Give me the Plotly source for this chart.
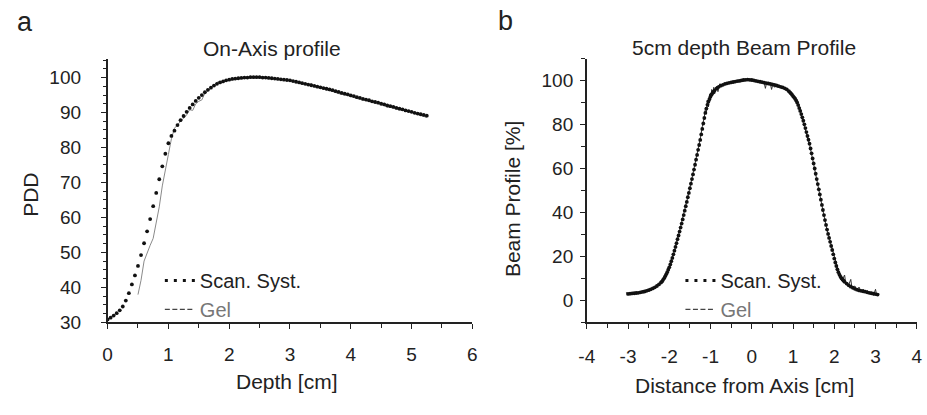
import plotly.graph_objects as go

# ---------------- Data: panel a (On-Axis profile) ----------------
pdd_scan_depth = [round(i * 0.05, 2) for i in range(106)]  # 0 .. 5.25 cm sampling grid
pdd_scan = [30.8, 31.3, 31.9, 32.6, 33.4, 34.5, 36.2, 38.3, 40.8, 43.4,
            46.1, 49.2, 52.6, 56.0, 59.5, 63.2, 67.0, 70.9, 74.6, 78.2,
            81.2, 83.3, 84.8, 86.4, 87.8, 89.0, 90.2, 91.3, 92.3, 93.3,
            94.2, 95.0, 95.8, 96.5, 97.1, 97.7, 98.2, 98.6, 98.9, 99.2,
            99.4, 99.6, 99.7, 99.8, 99.9, 100.0, 100.0, 100.1, 100.1, 100.1,
            100.1, 100.0, 100.0, 99.9, 99.8, 99.7, 99.6, 99.5, 99.4, 99.3,
            99.2, 99.0, 98.8, 98.6, 98.4, 98.2, 98.0, 97.8, 97.6, 97.4,
            97.2, 97.0, 96.8, 96.6, 96.4, 96.1, 95.9, 95.6, 95.4, 95.2,
            94.9, 94.7, 94.4, 94.2, 93.9, 93.7, 93.5, 93.2, 93.0, 92.8,
            92.5, 92.3, 92.0, 91.8, 91.6, 91.3, 91.1, 90.9, 90.6, 90.4,
            90.2, 89.9, 89.7, 89.5, 89.3, 89.1]

pdd_gel_depth = [0.5, 0.55, 0.6, 0.65, 0.7, 0.75, 0.8, 0.85, 0.9, 0.95,
                 1.0, 1.05, 1.1, 1.15, 1.2, 1.25, 1.3, 1.35, 1.4, 1.45,
                 1.5, 1.55, 1.6, 1.7, 1.8, 1.9, 2.0, 2.1, 2.2, 2.3,
                 2.4, 2.5, 2.6, 2.7, 2.8, 2.9, 3.0, 3.1, 3.2, 3.3,
                 3.35, 3.4, 3.5, 3.6, 3.7, 3.8, 3.9, 4.0, 4.1, 4.2,
                 4.3, 4.4, 4.5, 4.6, 4.7, 4.8, 4.9, 5.0, 5.1, 5.2, 5.25]
pdd_gel = [37.9, 42.0, 47.5, 50.0, 52.0, 54.0, 58.5, 63.0, 69.0, 74.0,
           78.0, 82.5, 85.5, 86.5, 87.5, 88.5, 89.3, 90.8, 90.6, 92.5,
           93.2, 93.6, 95.5, 96.9, 98.7, 98.8, 99.3, 99.4, 99.9, 100.0,
           100.3, 100.2, 100.1, 99.7, 99.6, 99.4, 99.0, 98.5, 98.2, 97.8,
           98.3, 97.4, 97.0, 96.6, 96.0, 95.4, 95.1, 94.6, 94.0, 93.6,
           93.1, 92.6, 92.3, 91.6, 91.3, 90.7, 90.5, 90.0, 89.5, 89.0, 88.6]

# ---------------- Data: panel b (5cm depth Beam Profile) ----------------
# sampling grid of the scanning system: 0.05 cm in the flat parts, 0.025 cm on the penumbrae
prof_scan_x = ([round(-3.0 + i * 0.05, 3) for i in range(16)] +
               [round(-2.2 + i * 0.025, 3) for i in range(53)] +
               [round(-0.85 + i * 0.05, 3) for i in range(35)] +
               [round(0.9 + i * 0.025, 3) for i in range(55)] +
               [round(2.3 + i * 0.05, 3) for i in range(16)])
prof_scan = [2.9, 3.0, 3.1, 3.2, 3.3, 3.4, 3.6, 3.8, 4.0, 4.3, 4.6, 5.0, 5.4, 5.9, 6.5, 7.2,
             8.1, 8.6, 9.3, 10.0, 10.9, 11.8, 12.8, 13.9, 15.0, 16.3,
             17.8, 19.3, 20.9, 22.6, 24.3, 26.0, 27.8, 29.5, 31.3, 33.1,
             34.9, 36.8, 38.8, 40.8, 42.8, 44.8, 46.9, 48.9, 51.0, 53.1,
             55.2, 57.3, 59.5, 61.7, 64.0, 66.2, 68.5, 70.7, 73.0, 75.5,
             78.0, 80.5, 83.0, 85.3, 87.3, 89.0, 90.5, 91.7, 92.8, 93.7,
             94.4, 95.0, 95.6,
             96.5, 97.2, 97.7, 98.1, 98.5, 98.8, 99.0, 99.2, 99.4, 99.6,
             99.8, 99.9, 100.1, 100.3, 100.4, 100.5, 100.4, 100.3, 100.1, 99.9,
             99.7, 99.5, 99.3, 99.1, 98.9, 98.7, 98.5, 98.3, 98.1, 97.8,
             97.5, 97.2, 96.9, 96.5, 96.0,
             95.2, 94.7, 94.2, 93.6, 93.0, 92.4, 91.8, 91.0, 90.1, 88.9,
             87.5, 86.2, 84.8, 83.3, 81.8, 80.1, 78.4, 76.6, 74.8, 73.1,
             71.3, 69.1, 66.9, 64.6, 62.3, 60.0, 57.6, 55.2, 52.9, 50.5,
             48.2, 45.8, 43.4, 41.1, 38.8, 36.5, 34.3, 32.2, 30.2, 28.4,
             26.6, 24.7, 22.9, 20.9, 19.0, 17.2, 15.6, 14.1, 12.8, 11.7,
             10.8, 10.0, 9.4, 8.9, 8.4,
             7.6, 6.8, 6.2, 5.7, 5.2, 4.8, 4.5, 4.3, 4.1, 3.9, 3.6, 3.4, 3.2, 3.0, 2.8, 2.6]

prof_gel_x = [-3.05, -2.95, -2.85, -2.75, -2.65, -2.55, -2.45, -2.35, -2.25, -2.15,
              -2.05, -1.95, -1.85, -1.75, -1.65, -1.55, -1.45, -1.35, -1.25, -1.2,
              -1.15, -1.12, -1.1, -1.08, -1.05, -1.02, -1.0, -0.97, -0.95, -0.92,
              -0.9, -0.85, -0.82, -0.78, -0.7, -0.6, -0.5, -0.4, -0.3, -0.2,
              -0.1, 0.0, 0.1, 0.2, 0.3, 0.33, 0.36, 0.45, 0.48, 0.51,
              0.55, 0.58, 0.7, 0.8, 0.9, 1.0, 1.1, 1.15, 1.2, 1.3,
              1.4, 1.5, 1.6, 1.7, 1.8, 1.9, 2.0, 2.05, 2.1, 2.15,
              2.2, 2.25, 2.28, 2.35, 2.4, 2.43, 2.5, 2.55, 2.6, 2.65,
              2.7, 2.75, 2.8, 2.85, 2.9, 2.95, 3.0, 3.03, 3.08]
prof_gel = [3.5, 2.5, 3.4, 3.3, 3.9, 4.2, 5.2, 5.6, 7.5, 9.0,
            13.0, 18.0, 24.0, 31.5, 39.0, 47.0, 55.5, 64.0, 73.5, 79.0,
            83.5, 88.0, 85.0, 91.0, 88.0, 94.0, 91.0, 96.0, 93.0, 97.0,
            94.0, 97.5, 95.0, 98.5, 98.0, 99.0, 99.3, 99.5, 100.0, 100.2,
            100.6, 100.2, 99.9, 99.4, 99.2, 96.5, 99.0, 98.6, 96.0, 98.3,
            97.0, 98.2, 97.3, 96.4, 95.0, 92.8, 90.0, 88.5, 84.0, 78.0,
            71.0, 62.0, 53.0, 43.5, 34.0, 26.8, 19.5, 16.0, 13.5, 11.0,
            9.5, 11.5, 7.5, 7.0, 9.5, 5.5, 6.5, 4.5, 6.0, 4.0,
            5.0, 3.5, 4.5, 2.8, 3.8, 2.2, 5.0, 2.0, 3.0]

x1_ticks = [0, 1, 2, 3, 4, 5, 6]
y1_ticks = [30, 40, 50, 60, 70, 80, 90, 100]
x2_ticks = [-4, -3, -2, -1, 0, 1, 2, 3, 4]
x2_ticktext = ["-4", "-3", "-2", "-1", "0", "1", "2", "3", "4"]
y2_ticks = [0, 20, 40, 60, 80, 100]

# ---------------- Figure ----------------
FONT = "Liberation Sans, Arial, sans-serif"
INK = "#222222"
W, H = 927, 415

fig = go.Figure()

# panel a
fig.add_trace(go.Scatter(x=pdd_gel_depth, y=pdd_gel, mode="lines",
                         line=dict(color="#8a8a8a", width=1),
                         showlegend=False, xaxis="x", yaxis="y"))
fig.add_trace(go.Scatter(x=pdd_scan_depth, y=pdd_scan, mode="markers",
                         marker=dict(color="#111111", size=3.8),
                         showlegend=False, xaxis="x", yaxis="y"))
fig.add_trace(go.Scatter(x=[None], y=[None], mode="lines", name="Scan. Syst.",
                         line=dict(color="#111111", width=3, dash="3px,6px"),
                         legend="legend", xaxis="x", yaxis="y"))
fig.add_trace(go.Scatter(x=[None], y=[None], mode="lines",
                         name="<span style='color:#777777'>Gel</span>",
                         line=dict(color="#444444", width=1.2, dash="5px,2.5px"),
                         legend="legend", xaxis="x", yaxis="y"))

# panel b
fig.add_trace(go.Scatter(x=prof_gel_x, y=prof_gel, mode="lines",
                         line=dict(color="#333333", width=1),
                         showlegend=False, xaxis="x2", yaxis="y2"))
fig.add_trace(go.Scatter(x=prof_scan_x, y=prof_scan, mode="markers",
                         marker=dict(color="#111111", size=3.8),
                         showlegend=False, xaxis="x2", yaxis="y2"))
fig.add_trace(go.Scatter(x=[None], y=[None], mode="lines", name="Scan. Syst.",
                         line=dict(color="#111111", width=3, dash="3px,6px"),
                         legend="legend2", xaxis="x2", yaxis="y2"))
fig.add_trace(go.Scatter(x=[None], y=[None], mode="lines",
                         name="<span style='color:#777777'>Gel</span>",
                         line=dict(color="#444444", width=1.2, dash="5px,2.5px"),
                         legend="legend2", xaxis="x2", yaxis="y2"))

axis_common = dict(showline=True, linecolor=INK, linewidth=1.5, ticks="outside",
                   ticklen=5, tickwidth=1.2, tickcolor=INK, showgrid=False,
                   zeroline=False, tickfont=dict(family=FONT, size=19, color=INK))

ytop = 1 - 61 / H
ybot = 1 - 331 / H

fig.update_layout(
    width=W, height=H,
    margin=dict(l=0, r=0, t=0, b=0),
    paper_bgcolor="white", plot_bgcolor="white",
    font=dict(family=FONT, color=INK),
    xaxis=dict(domain=[101 / W, 471 / W], range=[0, 6], tickvals=x1_ticks,
               minor=dict(dtick=0.5, ticks="outside", ticklen=4, tickwidth=1.2, tickcolor=INK),
               ticklabelstandoff=9, anchor="y", **axis_common),
    yaxis=dict(domain=[ybot, ytop], range=[30, 105.2], tickvals=y1_ticks,
               minor=dict(dtick=2.5, tick0=30, ticks="outside", ticklen=3, tickwidth=1.2, tickcolor=INK),
               ticklabelstandoff=16, anchor="x", **axis_common),
    xaxis2=dict(domain=[587 / W, 921.7 / W], range=[-4, 4], tickvals=x2_ticks, ticktext=x2_ticktext,
                minor=dict(dtick=0.5, ticks="outside", ticklen=4, tickwidth=1.2, tickcolor=INK),
                ticklabelstandoff=11, anchor="y2", **axis_common),
    yaxis2=dict(domain=[ybot, 1 - 60.3 / H], range=[-10, 110], tickvals=y2_ticks,
                minor=dict(dtick=10, tick0=0, ticks="outside", ticklen=4, tickwidth=1.2, tickcolor=INK),
                ticklabelstandoff=3, anchor="x2", **axis_common),
    legend=dict(x=154 / W, y=1 - 268 / H, xanchor="left", yanchor="top",
                bgcolor="rgba(0,0,0,0)", font=dict(family=FONT, size=20, color=INK),
                tracegroupgap=0, itemwidth=30),
    legend2=dict(x=682 / W, y=1 - 268 / H, xanchor="left", yanchor="top",
                 bgcolor="rgba(0,0,0,0)", font=dict(family=FONT, size=20, color=INK),
                 tracegroupgap=0, itemwidth=30),
)

annots = [
    dict(text="a", x=17 / W, y=1 - 23 / H, size=27),
    dict(text="b", x=505 / W, y=1 - 22 / H, size=27),
    dict(text="On-Axis profile", x=267.5 / W, y=1 - 50 / H, size=21),
    dict(text="5cm depth Beam Profile", x=746 / W, y=1 - 49 / H, size=21),
    dict(text="Depth [cm]", x=282.5 / W, y=1 - 392 / H, size=21),
    dict(text="Distance from Axis [cm]", x=746.5 / W, y=1 - 396 / H, size=21),
]
for a in annots:
    fig.add_annotation(text=a["text"], x=a["x"], y=a["y"], xref="paper", yref="paper",
                       xanchor="center", yanchor="middle", showarrow=False,
                       font=dict(family=FONT, size=a["size"], color=INK))
fig.add_annotation(text="PDD", x=23.5 / W, y=1 - 200 / H, xref="paper", yref="paper",
                   xanchor="center", yanchor="middle", showarrow=False, textangle=-90,
                   font=dict(family=FONT, size=21, color=INK))
fig.add_annotation(text="Beam Profile [%]", x=511.7 / W, y=1 - 205 / H, xref="paper", yref="paper",
                   xanchor="center", yanchor="middle", showarrow=False, textangle=-90,
                   font=dict(family=FONT, size=21, color=INK))

fig.write_html("out.html")
